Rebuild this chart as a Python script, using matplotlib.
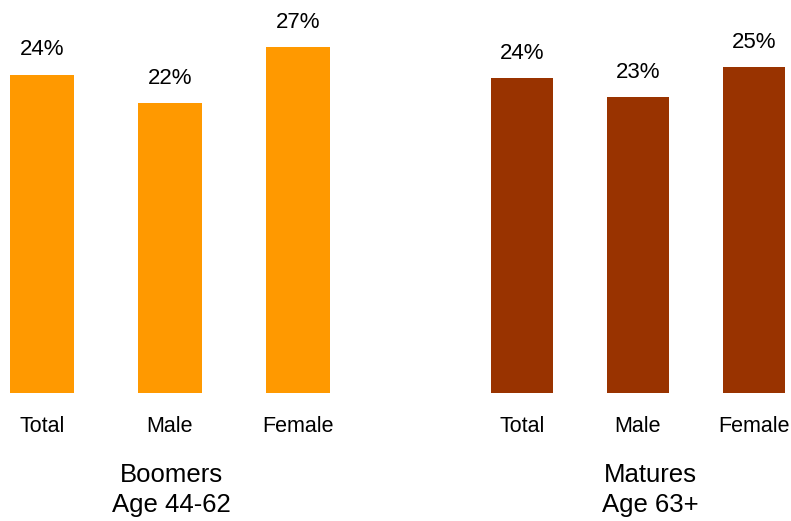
import matplotlib.pyplot as plt

plt.rcParams["font.family"] = ["Liberation Sans", "DejaVu Sans"]

categories = ["Total", "Male", "Female"]
boomers_values = [24.5, 22.3, 26.6]
matures_values = [24.2, 22.8, 25.1]
group_names = ["Boomers\nAge 44-62", "Matures\nAge 63+"]
group_colors = ["#FF9900", "#993300"]

fig = plt.figure(figsize=(7.91, 5.21), dpi=100)

# axes placed in pixel terms: bars bottom at y=393, 13 px per point
fig_w, fig_h = 791, 521
bottom = 1 - 393 / fig_h
height = 390 / fig_h

ax_left = fig.add_axes([10 / fig_w, bottom, 320 / fig_w, height])
ax_right = fig.add_axes([490.7 / fig_w, bottom, 294.6 / fig_w, height])

setups = [
    (ax_left, boomers_values, group_colors[0], 0.5, 0.25),
    (ax_right, matures_values, group_colors[1], 0.54, 0.27),
]

for ax, values, color, width, margin in setups:
    x = range(len(categories))
    ax.bar(x, values, width=width, color=color)
    ax.set_xlim(-margin, len(categories) - 1 + margin)
    ax.set_ylim(0, 30)
    ax.set_xticks(list(x))
    ax.set_xticklabels(categories, fontsize=15.5)
    ax.tick_params(axis="x", length=0, pad=16.5)
    ax.set_yticks([])
    for spine in ax.spines.values():
        spine.set_visible(False)
    for xi, v in zip(x, values):
        ax.annotate(f"{round(v)}%", (xi, v), xytext=(0, 13.7),
                    textcoords="offset points", ha="center", va="baseline",
                    fontsize=16)

fig.text(171 / fig_w, 1 - 490 / fig_h, group_names[0], ha="center",
         va="center", fontsize=18.5, linespacing=1.35)
fig.text(650 / fig_w, 1 - 490 / fig_h, group_names[1], ha="center",
         va="center", fontsize=18.5, linespacing=1.35)

fig.savefig("out.png", dpi=100)
